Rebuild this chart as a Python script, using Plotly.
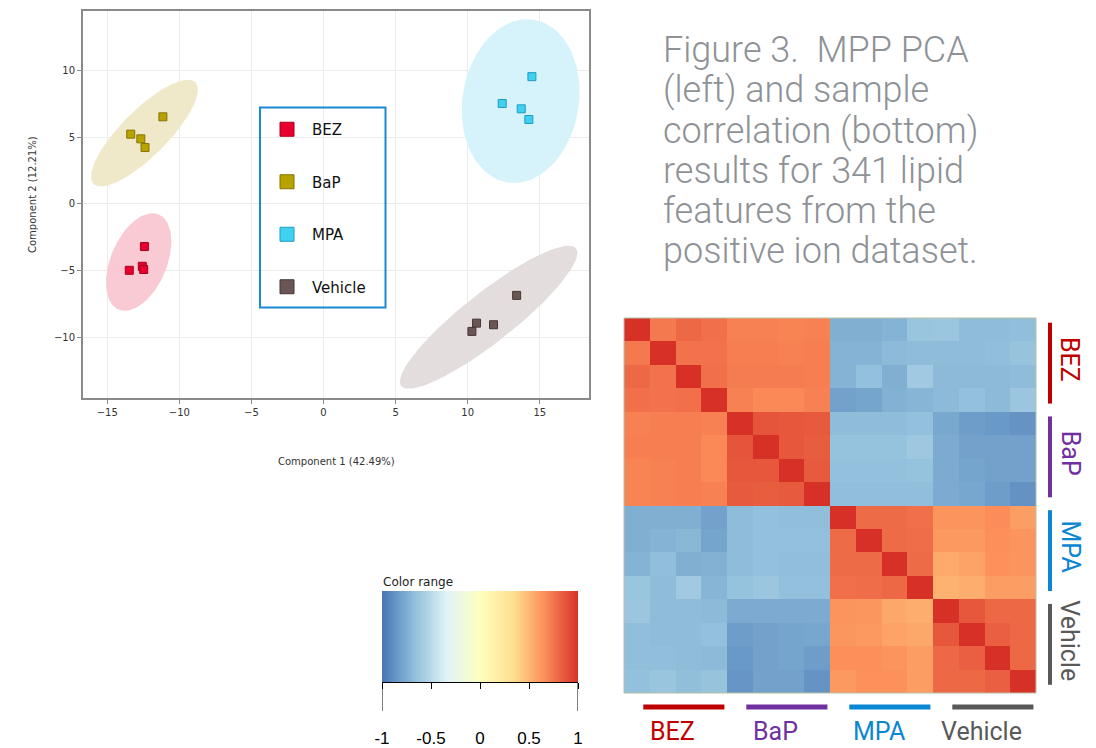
import numpy as np
import plotly.graph_objects as go

W, H = 1096, 748

# ---------------- PCA data ----------------
groups = ["BEZ", "BaP", "MPA", "Vehicle"]
pc1_BEZ = [-12.42, -13.47, -12.57, -12.47]
pc2_BEZ = [-3.20, -4.98, -4.68, -4.92]
pc1_BaP = [-11.14, -13.37, -12.67, -12.38]
pc2_BaP = [6.52, 5.22, 4.87, 4.22]
pc1_MPA = [14.45, 12.39, 13.71, 14.24]
pc2_MPA = [9.53, 7.52, 7.12, 6.32]
pc1_Veh = [13.39, 10.61, 11.79, 10.29]
pc2_Veh = [-6.86, -8.94, -9.06, -9.56]

# confidence ellipses: centre, semi-axis vector u, semi-axis vector v (data units)
ell_center = [(-12.82, -4.36), (-12.42, 5.30), (13.67, 7.70), (11.45, -8.50)]
ell_u = [(1.39, 3.56), (3.53, 3.81), (0.92, 6.10), (6.06, 5.15)]
ell_v = [(1.79, -0.82), (1.13, -1.22), (3.98, -0.70), (1.07, -1.47)]

marker_fill = ["#e8002e", "#b8a200", "#40d0f2", "#6b5656"]
marker_line = ["#a8001f", "#857400", "#1e9cc0", "#463636"]
ellipse_fill = ["#f9cad3", "#f0e9c9", "#d6f3fb", "#e3dddd"]

pc1 = [pc1_BEZ, pc1_BaP, pc1_MPA, pc1_Veh]
pc2 = [pc2_BEZ, pc2_BaP, pc2_MPA, pc2_Veh]

# ---------------- correlation heatmap ----------------
samples = [f"{g}{i}" for g in groups for i in range(1, 5)]
corr = [
    [1.00, 0.74, 0.80, 0.77, 0.71, 0.71, 0.70, 0.71, -0.74, -0.74, -0.72, -0.63, -0.62, -0.68, -0.68, -0.67],
    [0.74, 1.00, 0.76, 0.76, 0.72, 0.72, 0.71, 0.72, -0.72, -0.72, -0.69, -0.68, -0.68, -0.68, -0.67, -0.64],
    [0.80, 0.76, 1.00, 0.77, 0.73, 0.73, 0.73, 0.72, -0.72, -0.66, -0.74, -0.60, -0.69, -0.69, -0.69, -0.68],
    [0.77, 0.76, 0.77, 1.00, 0.71, 0.68, 0.68, 0.71, -0.80, -0.79, -0.73, -0.71, -0.69, -0.66, -0.69, -0.62],
    [0.71, 0.72, 0.72, 0.71, 1.00, 0.87, 0.86, 0.85, -0.68, -0.68, -0.68, -0.66, -0.77, -0.82, -0.84, -0.86],
    [0.72, 0.72, 0.72, 0.68, 0.87, 1.00, 0.86, 0.84, -0.65, -0.65, -0.65, -0.61, -0.76, -0.80, -0.80, -0.80],
    [0.70, 0.71, 0.72, 0.68, 0.86, 0.86, 1.00, 0.85, -0.66, -0.66, -0.66, -0.65, -0.76, -0.79, -0.80, -0.80],
    [0.70, 0.71, 0.72, 0.71, 0.85, 0.84, 0.85, 1.00, -0.67, -0.67, -0.67, -0.67, -0.76, -0.78, -0.82, -0.87],
    [-0.74, -0.74, -0.74, -0.80, -0.68, -0.66, -0.67, -0.67, 1.00, 0.79, 0.79, 0.77, 0.64, 0.64, 0.67, 0.60],
    [-0.74, -0.72, -0.70, -0.79, -0.68, -0.66, -0.66, -0.66, 0.79, 1.00, 0.79, 0.78, 0.62, 0.62, 0.66, 0.64],
    [-0.72, -0.67, -0.74, -0.73, -0.68, -0.66, -0.67, -0.67, 0.79, 0.79, 1.00, 0.79, 0.55, 0.58, 0.65, 0.64],
    [-0.63, -0.68, -0.60, -0.71, -0.65, -0.62, -0.66, -0.66, 0.77, 0.78, 0.80, 1.00, 0.52, 0.54, 0.60, 0.60],
    [-0.62, -0.68, -0.68, -0.69, -0.76, -0.76, -0.76, -0.76, 0.64, 0.63, 0.56, 0.54, 1.00, 0.86, 0.80, 0.80],
    [-0.67, -0.68, -0.68, -0.66, -0.82, -0.80, -0.79, -0.78, 0.63, 0.62, 0.58, 0.56, 0.86, 1.00, 0.83, 0.80],
    [-0.67, -0.67, -0.68, -0.69, -0.84, -0.80, -0.79, -0.82, 0.66, 0.66, 0.64, 0.60, 0.80, 0.83, 1.00, 0.80],
    [-0.66, -0.63, -0.67, -0.64, -0.85, -0.80, -0.80, -0.86, 0.62, 0.65, 0.65, 0.60, 0.80, 0.80, 0.83, 1.00],
]
group_label_colors = ["#c00000", "#7030a0", "#0a86d2", "#595959"]

# pheatmap default palette: rev(brewer RdYlBu 7)
palette = ["#4575B4", "#91BFDB", "#E0F3F8", "#FFFFBF", "#FEE090", "#FC8D59", "#D73027"]
colorscale = [[i / (len(palette) - 1), c] for i, c in enumerate(palette)]

cb_ticks = [-1, -0.5, 0, 0.5, 1]
cb_ticktext = ["-1", "-0.5", "0", "0.5", "1"]

title_lines = [
    "Figure 3.  MPP PCA",
    "(left) and sample",
    "correlation (bottom)",
    "results for 341 lipid",
    "features from the",
    "positive ion dataset.",
]

def px_x(v):
    return v / W

def px_y(v):
    return 1 - v / H

fig = go.Figure()

# ellipses
t = np.linspace(0, 2 * np.pi, 120)
for g, c, u, v, col in zip(groups, ell_center, ell_u, ell_v, ellipse_fill):
    ex = c[0] + u[0] * np.cos(t) + v[0] * np.sin(t)
    ey = c[1] + u[1] * np.cos(t) + v[1] * np.sin(t)
    fig.add_trace(go.Scatter(x=ex, y=ey, mode="lines", fill="toself", fillcolor=col,
                             line=dict(width=0, color=col), hoverinfo="skip",
                             showlegend=False, xaxis="x", yaxis="y"))

# points
for i, g in enumerate(groups):
    fig.add_trace(go.Scatter(x=pc1[i], y=pc2[i], mode="markers", name=g,
                             marker=dict(symbol="square", size=8, color=marker_fill[i],
                                         line=dict(width=1, color=marker_line[i])),
                             showlegend=False, xaxis="x", yaxis="y"))
    # legend entry (larger symbol as in the reference)
    fig.add_trace(go.Scatter(x=[None], y=[None], mode="markers", name=g, legendgroup=g,
                             marker=dict(symbol="square", size=14, color=marker_fill[i],
                                         line=dict(width=1, color=marker_line[i])),
                             showlegend=True, xaxis="x", yaxis="y"))

# correlation heatmap
fig.add_trace(go.Heatmap(z=corr, x=list(range(16)), y=list(range(16)), colorscale=colorscale,
                         zmin=-1, zmax=1, showscale=False, xaxis="x2", yaxis="y2",
                         text=[[f"{a} / {b}" for b in samples] for a in samples]))

# colour-range bar
cb_x = np.linspace(-1, 1, 201)
fig.add_trace(go.Heatmap(z=[cb_x], x=cb_x, y=[0], colorscale=colorscale, zmin=-1, zmax=1,
                         showscale=False, xaxis="x3", yaxis="y3", hoverinfo="skip"))

axis_font = dict(family="DejaVu Sans", size=10, color="#333333")

fig.update_layout(
    width=W, height=H,
    margin=dict(l=0, r=0, t=0, b=0, autoexpand=False),
    paper_bgcolor="white", plot_bgcolor="white",
    showlegend=True,
    legend=dict(x=px_x(262), y=px_y(113), xanchor="left", yanchor="top",
                borderwidth=0, bgcolor="rgba(255,255,255,0)",
                font=dict(family="DejaVu Sans", size=15, color="#111111"),
                tracegroupgap=30, traceorder="grouped", itemsizing="trace",
                itemwidth=40),
    xaxis=dict(domain=[px_x(83), px_x(589)], range=[-16.68, 18.41], anchor="y", automargin=False,
               tickvals=[-15, -10, -5, 0, 5, 10, 15], showgrid=True, gridcolor="#ececec",
               zeroline=False, showline=True, linecolor="#8a8a8a", linewidth=2, mirror=True,
               ticks="outside", ticklen=4, tickcolor="#8a8a8a", tickfont=axis_font),
    yaxis=dict(domain=[px_y(398), px_y(11)], range=[-14.55, 14.45], anchor="x", automargin=False,
               tickvals=[-10, -5, 0, 5, 10], showgrid=True, gridcolor="#ececec",
               zeroline=False, showline=True, linecolor="#8a8a8a", linewidth=2, mirror=True,
               ticks="outside", ticklen=4, tickcolor="#8a8a8a", tickfont=axis_font),
    xaxis2=dict(domain=[px_x(624), px_x(1036)], range=[-0.5, 15.5], anchor="y2", visible=False,
                automargin=False),
    yaxis2=dict(domain=[px_y(693), px_y(318)], range=[15.5, -0.5], anchor="x2", visible=False,
                automargin=False),
    xaxis3=dict(domain=[px_x(382), px_x(578)], range=[-1, 1], anchor="y3", automargin=False,
                tickvals=cb_ticks, ticktext=cb_ticktext, ticks="outside", ticklen=6,
                tickcolor="black", showline=True, linecolor="black", linewidth=1,
                showgrid=False, zeroline=False, ticklabelstandoff=35,
                tickfont=dict(family="Liberation Sans", size=17, color="black")),
    yaxis3=dict(domain=[px_y(682), px_y(591)], range=[-0.5, 0.5], anchor="x3", visible=False,
                automargin=False),
)

shapes = []
# legend frame
shapes.append(dict(type="rect", xref="paper", yref="paper", x0=px_x(260), x1=px_x(385.5),
                   y0=px_y(307.5), y1=px_y(107.5), line=dict(color="#1a8ad4", width=2)))
# heatmap border
shapes.append(dict(type="rect", xref="x2 domain", yref="y2 domain", x0=0, x1=1, y0=0, y1=1,
                   line=dict(color="#b5c2a4", width=1)))
# long end ticks of the colour bar
for xv in (cb_ticks[0], cb_ticks[-1]):
    shapes.append(dict(type="line", xref="x3", yref="paper", x0=xv, x1=xv,
                       y0=px_y(683), y1=px_y(711), line=dict(color="black", width=1)))
annotations = []
for gi, (g, col) in enumerate(zip(groups, group_label_colors)):
    start, end = gi * 4 - 0.5, gi * 4 + 3.5
    # bottom bars + labels
    shapes.append(dict(type="line", xref="x2", yref="paper", x0=start + 0.75, x1=end - 0.1,
                       y0=px_y(707), y1=px_y(707), line=dict(color=col, width=5)))
    annotations.append(dict(text=g, xref="x2", yref="paper", x=(start + end) / 2 - 0.1, y=px_y(748),
                            xanchor="center", yanchor="bottom", showarrow=False,
                            font=dict(family="Roboto", size=25, color=col)))
    # right bars + labels
    shapes.append(dict(type="line", xref="paper", yref="y2", x0=px_x(1050), x1=px_x(1050),
                       y0=start + 0.2, y1=end - 0.35, line=dict(color=col, width=4)))
    annotations.append(dict(text=g, xref="paper", yref="y2", x=px_x(1070), y=(start + end) / 2 - 0.25,
                            xanchor="center", yanchor="middle", showarrow=False, textangle=90,
                            font=dict(family="Roboto", size=25, color=col)))

# axis titles
annotations.append(dict(text="Component 1 (42.49%)", xref="paper", yref="paper",
                        x=px_x(336), y=px_y(461), xanchor="center", yanchor="middle",
                        showarrow=False, font=axis_font))
annotations.append(dict(text="Component 2 (12.21%)", xref="paper", yref="paper",
                        x=px_x(32), y=px_y(195), xanchor="center", yanchor="middle",
                        showarrow=False, textangle=-90, font=axis_font))
# colour bar title
annotations.append(dict(text="Color range", xref="paper", yref="paper",
                        x=px_x(381), y=px_y(582), xanchor="left", yanchor="middle",
                        showarrow=False, font=dict(family="DejaVu Sans", size=12, color="#222222")))
# figure caption
for k, line in enumerate(title_lines):
    annotations.append(dict(text=line, xref="paper", yref="paper",
                            x=px_x(661), y=px_y(50 + k * 40.3), xanchor="left", yanchor="middle",
                            showarrow=False,
                            font=dict(family="Roboto", size=36, color="#8e9296", weight=300)))

fig.update_layout(shapes=shapes, annotations=annotations)
fig.write_html("out.html", config={"displayModeBar": False},
               post_script="document.body.style.margin='0';document.body.style.overflow='hidden';")
